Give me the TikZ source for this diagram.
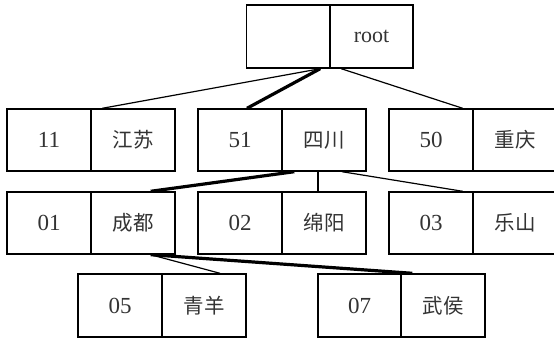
\documentclass[tikz,border=0pt]{standalone}
\usepackage{fontspec}
\setmainfont{Liberation Serif}
\newfontfamily\cjk{Noto Sans CJK SC}
\usetikzlibrary{calc}
\definecolor{txt}{HTML}{333333}
\tikzset{
  half/.style={draw=black, line width=1.4pt, minimum width=84pt, minimum height=62pt, inner sep=0pt, text=txt, font=\fontsize{23}{23}\selectfont},
  cn/.style={half, font=\fontsize{20.5}{20.5}\selectfont\cjk},
  thinline/.style={line width=1.2pt},
  thickline/.style={line width=3.2pt}
}
\begin{document}
\begin{tikzpicture}[x=1pt,y=-1pt]
\useasboundingbox (0,0) rectangle (554,339);
% root
\node[half, minimum height=63pt] (rootL) at (288.5,36.5) {};
\node[half, minimum height=63pt, minimum width=83pt, font=\fontsize{22}{22}\selectfont] (rootR) at (371.5,36.5) {root};
% row 1
\node[half] (jsL) at (49,140) {11};
\node[cn]   (jsR) at (133,140) {江苏};
\node[half] (scL) at (240,140) {51};
\node[cn]   (scR) at (324,140) {四川};
\node[half] (cqL) at (431,140) {50};
\node[cn]   (cqR) at (515,140) {重庆};
% row 2
\node[half] (cdL) at (49,223) {01};
\node[cn]   (cdR) at (133,223) {成都};
\node[half] (myL) at (240,223) {02};
\node[cn]   (myR) at (324,223) {绵阳};
\node[half] (lsL) at (431,223) {03};
\node[cn]   (lsR) at (515,223) {乐山};
% row 3
\node[half, minimum height=63pt] (qyL) at (120,305.5) {05};
\node[cn, minimum height=63pt]   (qyR) at (204,305.5) {青羊};
\node[half, minimum height=63pt, minimum width=83pt] (whL) at (359.5,305.5) {07};
\node[cn, minimum height=63pt]   (whR) at (443,305.5) {武侯};
% connectors
\draw[thinline]  ($(rootL.south east)+(-11,0)$) -- ($(jsR.north west)+(12,0)$);
\draw[thickline] ($(rootL.south east)+(-11,0)$) -- ($(scL.north)+(7,0)$);
\draw[thinline]  ($(rootL.south east)+(10,0)$) -- ($(cqL.north east)+(-11,0)$);
\draw[thickline] ($(scR.south west)+(13,0)$) -- ($(cdR.north east)+(-25,0)$);
\draw[thinline]  ($(scR.south)+(-6,0)$) -- ($(myR.north)+(-6,0)$);
\draw[thinline]  ($(scR.south)+(18,0)$) -- ($(lsL.north east)+(-11,0)$);
\draw[thinline]  ($(cdR.south east)+(-25,0)$) -- ($(qyR.north)+(16,0)$);
\draw[thickline] ($(cdR.south east)+(-25,0)$) -- ($(whR.north west)+(12,0)$);
\end{tikzpicture}
\end{document}
